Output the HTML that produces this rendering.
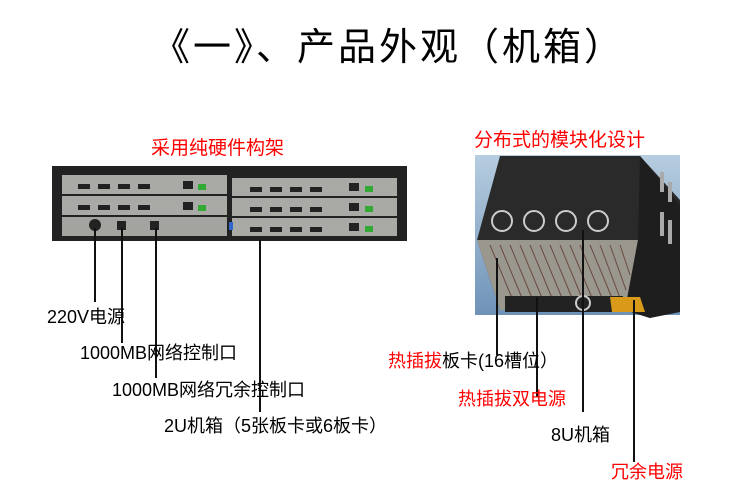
<!DOCTYPE html>
<html><head><meta charset="utf-8"><style>
body{margin:0;width:750px;height:500px;background:#fff;position:relative;overflow:hidden;font-family:"Liberation Sans","Noto Sans CJK SC",sans-serif;}
.t{position:absolute;white-space:nowrap;color:#000;}
.r{color:#f00;}
.l{position:absolute;width:2px;background:#111;}
</style></head><body>
<div class="t" style="left:152px;top:16px;font-size:38px;letter-spacing:3px;">《一》、产品外观（机箱）</div>
<div class="t r" style="left:151px;top:133px;font-size:19px;">采用纯硬件构架</div>
<div class="t r" style="left:474px;top:125px;font-size:19px;">分布式的模块化设计</div>

<svg style="position:absolute;left:0;top:0" width="750" height="500">
<rect x="52" y="166" width="355" height="75" fill="#222"/>
<rect x="62" y="175" width="165" height="19" fill="#a9aaa6"/>
<rect x="62" y="196" width="165" height="19" fill="#a9aaa6"/>
<rect x="62" y="217" width="165" height="19" fill="#a3a49f"/>
<rect x="232" y="178" width="165" height="18" fill="#a9aaa6"/>
<rect x="232" y="198" width="165" height="18" fill="#a9aaa6"/>
<rect x="232" y="218" width="165" height="18" fill="#a9aaa6"/>
<g fill="#222">
<rect x="78" y="184" width="12" height="5"/><rect x="98" y="184" width="12" height="5"/><rect x="118" y="184" width="12" height="5"/><rect x="138" y="184" width="12" height="5"/>
<rect x="78" y="205" width="12" height="5"/><rect x="98" y="205" width="12" height="5"/><rect x="118" y="205" width="12" height="5"/><rect x="138" y="205" width="12" height="5"/>
<rect x="250" y="187" width="12" height="5"/><rect x="270" y="187" width="12" height="5"/><rect x="290" y="187" width="12" height="5"/><rect x="310" y="187" width="12" height="5"/>
<rect x="250" y="207" width="12" height="5"/><rect x="270" y="207" width="12" height="5"/><rect x="290" y="207" width="12" height="5"/><rect x="310" y="207" width="12" height="5"/>
<rect x="250" y="227" width="12" height="5"/><rect x="270" y="227" width="12" height="5"/><rect x="290" y="227" width="12" height="5"/><rect x="310" y="227" width="12" height="5"/>
<rect x="183" y="181" width="10" height="8"/><rect x="183" y="202" width="10" height="8"/>
<rect x="349" y="183" width="10" height="8"/><rect x="349" y="203" width="10" height="8"/><rect x="349" y="223" width="10" height="8"/>
<rect x="117" y="221" width="9" height="9"/><rect x="150" y="221" width="9" height="9"/>
<circle cx="95" cy="225" r="6"/>
</g>
<g fill="#3a3">
<rect x="198" y="184" width="8" height="6"/><rect x="198" y="205" width="8" height="6"/>
<rect x="365" y="186" width="8" height="6"/><rect x="365" y="206" width="8" height="6"/><rect x="365" y="226" width="8" height="6"/>
</g>
<rect x="229" y="222" width="4" height="8" fill="#36c"/>
<defs><linearGradient id="bg" x1="0" y1="0" x2="0" y2="1"><stop offset="0" stop-color="#b7cde0"/><stop offset="1" stop-color="#6f93b8"/></linearGradient></defs>
<rect x="475" y="155" width="205" height="160" fill="url(#bg)"/>
<polygon points="500,156 640,156 680,200 680,310 650,318 625,310 500,310 477,240" fill="#2a2a2a"/>
<polygon points="477,240 638,240 625,310 500,310" fill="#9a978f"/>
<polygon points="638,240 640,156 680,205 680,312 650,318 625,310" fill="#1e1e1e"/>
<g stroke="#6a4a40" stroke-width="1">
<line x1="490" y1="245" x2="512" y2="298"/><line x1="500" y1="245" x2="522" y2="298"/><line x1="510" y1="245" x2="532" y2="298"/><line x1="520" y1="245" x2="542" y2="298"/><line x1="530" y1="245" x2="552" y2="298"/><line x1="540" y1="245" x2="562" y2="298"/><line x1="550" y1="245" x2="572" y2="298"/><line x1="560" y1="245" x2="582" y2="298"/><line x1="570" y1="245" x2="592" y2="298"/><line x1="580" y1="245" x2="602" y2="298"/><line x1="590" y1="245" x2="612" y2="298"/><line x1="600" y1="245" x2="620" y2="298"/><line x1="610" y1="245" x2="626" y2="290"/><line x1="620" y1="245" x2="630" y2="275"/>
</g>
<rect x="505" y="296" width="118" height="16" fill="#222"/>
<polygon points="610,297 640,297 645,312 612,312" fill="#d99a1a"/>
<g fill="none" stroke="#ccc" stroke-width="2">
<circle cx="502" cy="221" r="10"/><circle cx="534" cy="221" r="10"/><circle cx="566" cy="221" r="10"/><circle cx="598" cy="221" r="10"/>
<circle cx="583" cy="303" r="7"/>
</g>
<g fill="#aaa"><rect x="660" y="172" width="4" height="20"/><rect x="668" y="182" width="4" height="20"/><rect x="660" y="212" width="4" height="24"/><rect x="668" y="220" width="4" height="24"/></g>
</svg>

<div class="l" style="left:94px;top:228px;height:74px"></div>
<div class="l" style="left:121px;top:228px;height:115px"></div>
<div class="l" style="left:155px;top:228px;height:150px"></div>
<div class="l" style="left:259px;top:240px;height:172px"></div>
<div class="l" style="left:496px;top:258px;height:97px"></div>
<div class="l" style="left:536px;top:297px;height:100px"></div>
<div class="l" style="left:582px;top:230px;height:182px"></div>
<div class="l" style="left:633px;top:300px;height:162px"></div>

<div class="t" style="left:47px;top:303px;font-size:18px;">220V电源</div>
<div class="t" style="left:80px;top:339px;font-size:18px;">1000MB网络控制口</div>
<div class="t" style="left:112px;top:376px;font-size:18px;">1000MB网络冗余控制口</div>
<div class="t" style="left:164px;top:412px;font-size:18px;">2U机箱（5张板卡或6板卡）</div>
<div class="t" style="left:388px;top:347px;font-size:18px;"><span class="r">热插拔</span>板卡(16槽位）</div>
<div class="t r" style="left:458px;top:385px;font-size:18px;">热插拔双电源</div>
<div class="t" style="left:551px;top:421px;font-size:18px;">8U机箱</div>
<div class="t r" style="left:611px;top:458px;font-size:18px;">冗余电源</div>
</body></html>
